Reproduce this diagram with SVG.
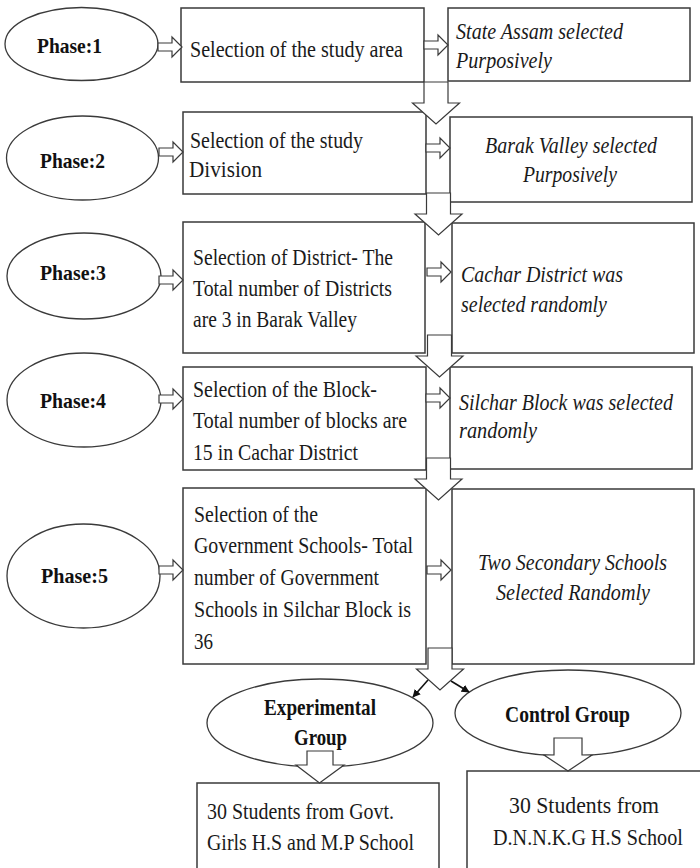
<svg xmlns="http://www.w3.org/2000/svg" width="700" height="868" viewBox="0 0 700 868">
<style>
.bg{fill:#ffffff}
.box{fill:#ffffff;stroke:#3a3a3a;stroke-width:1.5}
.ell{fill:#ffffff;stroke:#3a3a3a;stroke-width:1.3}
.harrow{fill:#ffffff;stroke:#3a3a3a;stroke-width:1.2;stroke-linejoin:miter}
.t{font-family:"Liberation Serif","Times New Roman",serif;font-size:23px;fill:#1a1a1a}
.i{font-family:"Liberation Serif","Times New Roman",serif;font-size:23px;font-style:italic;fill:#1a1a1a}
.b{font-family:"Liberation Serif","Times New Roman",serif;font-size:21px;font-weight:bold;fill:#111}
.bb{font-family:"Liberation Serif","Times New Roman",serif;font-size:23px;font-weight:bold;fill:#111}
.tl{font-family:"Liberation Serif","Times New Roman",serif;font-size:24px;fill:#1a1a1a}
.blk{stroke:#111;stroke-width:1.6;fill:none}
</style>
<defs>
<path id="ha" d="M0,-4 H14 V-10 L24,0 L14,10 V4 H0 Z"/>
<path id="da" d="M-12,-42 V-21 H-23.5 L0,0 L23.5,-21 H12 V-42 Z"/>
<marker id="ah" viewBox="0 0 10 10" refX="9" refY="5" markerWidth="5" markerHeight="5" orient="auto">
<path d="M0,0 L10,5 L0,10 Z" fill="#111"/>
</marker>
</defs>
<rect class="bg" x="0" y="0" width="700" height="868"/>

<g id="phase1"><ellipse class="ell" cx="81.5" cy="44" rx="76.5" ry="36.5"/><text class="b" x="37" y="53" textLength="65" lengthAdjust="spacingAndGlyphs">Phase:1</text></g>
<g id="phase2"><ellipse class="ell" cx="82.5" cy="158" rx="76" ry="42"/><text class="b" x="40" y="168" textLength="65" lengthAdjust="spacingAndGlyphs">Phase:2</text></g>
<g id="phase3"><ellipse class="ell" cx="84" cy="276" rx="77" ry="43"/><text class="b" x="40" y="280" textLength="66" lengthAdjust="spacingAndGlyphs">Phase:3</text></g>
<g id="phase4"><ellipse class="ell" cx="84" cy="400" rx="77" ry="47"/><text class="b" x="40" y="408" textLength="66" lengthAdjust="spacingAndGlyphs">Phase:4</text></g>
<g id="phase5"><ellipse class="ell" cx="83.5" cy="576" rx="76.5" ry="52"/><text class="b" x="41" y="583" textLength="67" lengthAdjust="spacingAndGlyphs">Phase:5</text></g>

<g id="step1"><rect class="box" x="181" y="8" width="243" height="74"/>
<text class="t" x="190" y="57" textLength="213" lengthAdjust="spacingAndGlyphs">Selection of the study area</text></g>
<g id="result1"><rect class="box" x="448" y="8" width="242" height="73"/>
<text class="i" x="456" y="39" textLength="167" lengthAdjust="spacingAndGlyphs">State Assam selected</text>
<text class="i" x="456" y="68" textLength="96" lengthAdjust="spacingAndGlyphs">Purposively</text></g>

<g id="step2"><rect class="box" x="183" y="112" width="243" height="82"/>
<text class="t" x="190" y="148" textLength="173" lengthAdjust="spacingAndGlyphs">Selection of the study</text>
<text class="t" x="189" y="177" textLength="73" lengthAdjust="spacingAndGlyphs">Division</text></g>
<g id="result2"><rect class="box" x="450" y="117" width="242" height="85"/>
<text class="i" x="485" y="153" textLength="172" lengthAdjust="spacingAndGlyphs">Barak Valley selected</text>
<text class="i" x="523" y="182" textLength="94" lengthAdjust="spacingAndGlyphs">Purposively</text></g>

<g id="step3"><rect class="box" x="183" y="222" width="242" height="131"/>
<text class="t" x="193" y="265" textLength="200" lengthAdjust="spacingAndGlyphs">Selection of District- The</text>
<text class="t" x="193" y="296" textLength="199" lengthAdjust="spacingAndGlyphs">Total number of Districts</text>
<text class="t" x="193" y="327" textLength="164" lengthAdjust="spacingAndGlyphs">are 3 in Barak Valley</text></g>
<g id="result3"><rect class="box" x="452" y="223" width="242" height="130"/>
<text class="i" x="461" y="282" textLength="162" lengthAdjust="spacingAndGlyphs">Cachar District was</text>
<text class="i" x="461" y="312" textLength="146" lengthAdjust="spacingAndGlyphs">selected randomly</text></g>

<g id="step4"><rect class="box" x="183" y="367" width="243" height="103"/>
<text class="t" x="193" y="397" textLength="184" lengthAdjust="spacingAndGlyphs">Selection of the Block-</text>
<text class="t" x="193" y="428" textLength="214" lengthAdjust="spacingAndGlyphs">Total number of blocks are</text>
<text class="t" x="193" y="460" textLength="165" lengthAdjust="spacingAndGlyphs">15 in Cachar District</text></g>
<g id="result4"><rect class="box" x="450" y="367" width="242" height="102"/>
<text class="i" transform="translate(459,410) scale(0.87,1)" x="0" y="0" textLength="246" lengthAdjust="spacingAndGlyphs">Silchar Block was selected</text>
<text class="i" x="459" y="438" textLength="78" lengthAdjust="spacingAndGlyphs">randomly</text></g>

<g id="step5"><rect class="box" x="183" y="488" width="243" height="176"/>
<text class="t" x="194" y="522" textLength="124" lengthAdjust="spacingAndGlyphs">Selection of the</text>
<text class="t" x="194" y="553" textLength="219" lengthAdjust="spacingAndGlyphs">Government Schools- Total</text>
<text class="t" x="194" y="585" textLength="185" lengthAdjust="spacingAndGlyphs">number of Government</text>
<text class="t" x="194" y="617" textLength="217" lengthAdjust="spacingAndGlyphs">Schools in Silchar Block is</text>
<text class="t" x="194" y="649" textLength="19" lengthAdjust="spacingAndGlyphs">36</text></g>
<g id="result5"><rect class="box" x="452" y="489" width="242" height="175"/>
<text class="i" x="478" y="570" textLength="189" lengthAdjust="spacingAndGlyphs">Two Secondary Schools</text>
<text class="i" x="496" y="600" textLength="154" lengthAdjust="spacingAndGlyphs">Selected Randomly</text></g>

<g id="experimental"><ellipse class="ell" cx="320" cy="723" rx="113" ry="44"/>
<text class="bb" x="264" y="715" textLength="112" lengthAdjust="spacingAndGlyphs">Experimental</text>
<text class="bb" x="294" y="745" textLength="53" lengthAdjust="spacingAndGlyphs">Group</text></g>
<g id="control"><ellipse class="ell" cx="568" cy="713" rx="113" ry="43"/>
<text class="bb" x="505" y="722" textLength="125" lengthAdjust="spacingAndGlyphs">Control Group</text></g>

<g id="expStudents"><rect class="box" x="197" y="783" width="242" height="100"/>
<text class="tl" x="207" y="819" textLength="187" lengthAdjust="spacingAndGlyphs">30 Students from Govt.</text>
<text class="tl" x="207" y="850" textLength="207" lengthAdjust="spacingAndGlyphs">Girls H.S and M.P School</text></g>
<g id="ctrlStudents"><rect class="box" x="467" y="771" width="245" height="110"/>
<text class="tl" x="509" y="813" textLength="150" lengthAdjust="spacingAndGlyphs">30 Students from</text>
<text class="tl" transform="translate(493,845) scale(0.84,1)" x="0" y="0" textLength="226" lengthAdjust="spacingAndGlyphs">D.N.N.K.G H.S School</text></g>

<g id="connectors">
<use href="#ha" class="harrow" transform="translate(158,47)"/>
<use href="#ha" class="harrow" transform="translate(159,152)"/>
<use href="#ha" class="harrow" transform="translate(159,280)"/>
<use href="#ha" class="harrow" transform="translate(159,399)"/>
<use href="#ha" class="harrow" transform="translate(159,570)"/>
<use href="#ha" class="harrow" transform="translate(424,45)"/>
<use href="#ha" class="harrow" transform="translate(426,148)"/>
<use href="#ha" class="harrow" transform="translate(427,272)"/>
<use href="#ha" class="harrow" transform="translate(426,398)"/>
<use href="#ha" class="harrow" transform="translate(427,570)"/>
<use href="#da" class="harrow" transform="translate(436,124)"/>
<use href="#da" class="harrow" transform="translate(438.5,235)"/>
<use href="#da" class="harrow" transform="translate(439.5,377)"/>
<use href="#da" class="harrow" transform="translate(438.5,500)"/>
<use href="#da" class="harrow" transform="translate(440,690)"/>
<path class="harrow" d="M307,751 V765 H296 L319.5,783 L344,765 H333 V751 Z"/>
<path class="harrow" d="M554,738 V755 H544 L568,771 L592,755 H582 V738 Z"/>
<line class="blk" x1="428" y1="680" x2="413" y2="697" marker-end="url(#ah)"/>
<line class="blk" x1="451" y1="681" x2="469" y2="692" marker-end="url(#ah)"/>
</g>
</svg>
